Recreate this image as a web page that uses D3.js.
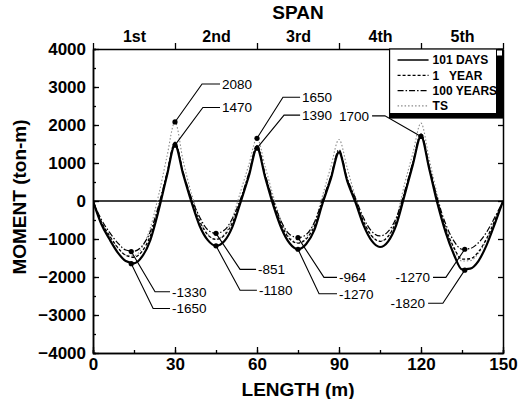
<!DOCTYPE html>
<html>
<head>
<meta charset="utf-8">
<script src="https://cdn.jsdelivr.net/npm/d3@7"></script>
<style>
    body { margin: 0; background: #fff; }
    svg { display: block; font-family: "Liberation Sans", Arial, sans-serif; }
</style>
</head>
<body>
<div id="chart"></div>
<script>
// moment envelopes along the 5-span girder, every 3 m
const lengths  = [0, 3, 6, 9, 12, 15, 18, 21, 24, 27, 30, 33, 36, 39, 42, 45, 48, 51, 54, 57, 60,
                  63, 66, 69, 72, 75, 78, 81, 84, 87, 90, 93, 96, 99, 102, 105, 108, 111, 114, 117, 120,
                  123, 126, 129, 132, 135, 138, 141, 144, 147, 150];
const days101  = [0, -600, -1000, -1350, -1580, -1640, -1460, -1020, -250, 650, 1470, 700, -20, -650, -1030, -1180, -1060, -680, -30, 650, 1390,
                  620, -120, -730, -1120, -1270, -1130, -760, -60, 580, 1280, 530, -30, -640, -1050, -1210, -1060, -620, 150, 950, 1700,
                  850, -60, -820, -1400, -1800, -1780, -1580, -1160, -600, 0];
const year1    = [0, -540, -910, -1220, -1430, -1480, -1320, -910, -180, 690, 1510, 730, 30, -530, -890, -1010, -910, -570, 0, 690, 1420,
                  660, -60, -640, -1000, -1110, -1000, -660, -20, 620, 1310, 560, 20, -540, -920, -1060, -930, -520, 200, 980, 1730,
                  880, 0, -710, -1220, -1530, -1520, -1340, -990, -510, 0];
const years100 = [0, -480, -820, -1100, -1290, -1320, -1180, -800, -120, 720, 1550, 760, 80, -420, -760, -851, -770, -460, 60, 730, 1460,
                  700, 0, -560, -880, -964, -880, -560, 30, 650, 1350, 600, 80, -450, -800, -920, -800, -430, 250, 1020, 1770,
                  920, 60, -600, -1050, -1270, -1250, -1100, -820, -430, 0];
const ts       = [0, -550, -920, -1230, -1420, -1440, -1220, -700, 150, 1150, 2080, 1050, 200, -450, -880, -1000, -880, -450, 250, 950, 1650,
                  900, 120, -560, -960, -1100, -960, -560, 150, 900, 1620, 870, 100, -560, -930, -1060, -920, -450, 450, 1250, 2050,
                  1100, 150, -700, -1250, -1580, -1570, -1380, -1020, -540, 0];

const seriesNames = ["101 DAYS", "1   YEAR", "100 YEARS", "TS"];
const spanNames = ["1st", "2nd", "3rd", "4th", "5th"];
const spanCentres = [15, 45, 75, 105, 135];
const supports = [0, 30, 60, 90, 120, 150];
const lengthTicks = [0, 30, 60, 90, 120, 150];
const momentTicks = [-4000, -3000, -2000, -1000, 0, 1000, 2000, 3000, 4000];

// labelled values: point on the curve, then bend of the leader and label start (data units)
const callouts = [
    { x: 30,  m: 2080,  text: "2080",  bx: 39.9,  by: 3080,  tx: 47.2 },
    { x: 30,  m: 1470,  text: "1470",  bx: 40.2,  by: 2460,  tx: 47.2 },
    { x: 60,  m: 1650,  text: "1650",  bx: 69.5,  by: 2730,  tx: 76.5 },
    { x: 60,  m: 1390,  text: "1390",  bx: 69.9,  by: 2260,  tx: 76.5 },
    { x: 120, m: 1700,  text: "1700",  bx: 106.8, by: 2240,  tx: 101.0 },
    { x: 14,  m: -1330, text: "-1330", bx: 22.7,  by: -2390, tx: 28.9 },
    { x: 14,  m: -1650, text: "-1650", bx: 22.0,  by: -2830, tx: 28.9 },
    { x: 45,  m: -851,  text: "-851",  bx: 53.8,  by: -1800, tx: 60.4 },
    { x: 45,  m: -1180, text: "-1180", bx: 53.8,  by: -2350, tx: 60.7 },
    { x: 75,  m: -964,  text: "-964",  bx: 84.5,  by: -2010, tx: 90.0 },
    { x: 75,  m: -1270, text: "-1270", bx: 82.7,  by: -2440, tx: 90.0 },
    { x: 136, m: -1270, text: "-1270", bx: 129.1, by: -2010, tx: 123.3 },
    { x: 136, m: -1820, text: "-1820", bx: 128.0, by: -2690, tx: 121.5 }
];

const W = 522, H = 399;
const margin = { top: 49, right: 19, bottom: 46, left: 93 };
const iw = W - margin.left - margin.right;
const ih = H - margin.top - margin.bottom;

const svg = d3.select("#chart").append("svg")
    .attr("width", W)
    .attr("height", H);

const x = d3.scaleLinear().domain([0, 150]).range([0, iw]);
const y = d3.scaleLinear().domain([-4000, 4000]).range([ih, 0]);

const g = svg.append("g").attr("transform", `translate(${margin.left},${margin.top})`);

g.append("clipPath").attr("id", "plot")
    .append("rect").attr("width", iw).attr("height", ih);

// zero line
g.append("line")
    .attr("x1", 0).attr("x2", iw)
    .attr("y1", y(0)).attr("y2", y(0))
    .attr("stroke", "#000").attr("stroke-width", 1.5);

const styles = [
    { data: ts,       color: "#8a8a8a", width: 1.1, dash: "1.5,2" },
    { data: years100, color: "#000",    width: 1.2, dash: "6,2,1.5,2" },
    { data: year1,    color: "#000",    width: 1.3, dash: "3,2" },
    { data: days101,  color: "#000",    width: 2.2, dash: null }
];

const line = d3.line()
    .x((d, i) => x(lengths[i]))
    .y(d => y(d))
    .curve(d3.curveMonotoneX);

styles.forEach(s => {
    g.append("path")
        .attr("d", line(s.data))
        .attr("fill", "none")
        .attr("stroke", s.color)
        .attr("stroke-width", s.width)
        .attr("stroke-dasharray", s.dash)
        .attr("clip-path", "url(#plot)");
});

// axes
const fontTick = g => g.selectAll("text")
    .attr("font-size", 17).attr("font-weight", "bold").attr("fill", "#000");

const styleAxis = ax => {
    ax.select(".domain").attr("stroke-width", 1.5);
    ax.selectAll(".tick line").attr("stroke-width", 1.3);
};

g.append("g").attr("transform", `translate(0,${ih})`)
    .call(d3.axisBottom(x).tickValues(d3.range(0, 151, 15)).tickSize(-3).tickFormat(""))
    .call(styleAxis);
g.append("g").attr("transform", `translate(0,${ih})`)
    .call(d3.axisBottom(x).tickValues(lengthTicks).tickSize(-6).tickSizeOuter(0).tickPadding(5).tickFormat(d3.format("d")))
    .call(styleAxis).call(fontTick);

g.append("g")
    .call(d3.axisTop(x).tickValues(supports).tickSize(6).tickSizeOuter(0).tickFormat(""))
    .call(styleAxis);
g.append("g")
    .call(d3.axisTop(x).tickValues(spanCentres).tickSize(0).tickPadding(7).tickFormat((d, i) => spanNames[i]))
    .call(ax => ax.select(".domain").remove())
    .call(ax => ax.selectAll("text").attr("font-size", 16).attr("font-weight", "bold"));

g.append("g")
    .call(d3.axisLeft(y).tickValues(d3.range(-4000, 4001, 500)).tickSize(-3).tickFormat(""))
    .call(styleAxis);
g.append("g")
    .call(d3.axisLeft(y).tickValues(momentTicks).tickSize(-6).tickSizeOuter(0).tickPadding(7).tickFormat(d3.format("d")))
    .call(styleAxis).call(fontTick);

g.append("g").attr("transform", `translate(${iw},0)`)
    .call(d3.axisRight(y).tickValues(momentTicks).tickSize(-5).tickSizeOuter(0).tickFormat(""))
    .call(styleAxis);

// axis titles
svg.append("text")
    .attr("x", margin.left + iw / 2).attr("y", 19)
    .attr("text-anchor", "middle")
    .attr("font-size", 19).attr("font-weight", "bold")
    .text("SPAN");
svg.append("text")
    .attr("x", margin.left + iw / 2).attr("y", 396)
    .attr("text-anchor", "middle")
    .attr("font-size", 19).attr("font-weight", "bold")
    .text("LENGTH (m)");
svg.append("text")
    .attr("transform", `translate(26,${margin.top + ih / 2 - 4}) rotate(-90)`)
    .attr("text-anchor", "middle")
    .attr("font-size", 19).attr("font-weight", "bold")
    .text("MOMENT (ton-m)");

// callouts
const cg = g.append("g");
callouts.forEach(c => {
    const left = c.tx < c.x;
    const px = x(c.x), py = y(c.m), bx = x(c.bx), by = y(c.by), tx = x(c.tx);
    cg.append("polyline")
        .attr("points", [[px, py], [bx, by], [left ? tx + 3 : tx - 2, by]].map(p => p.join(",")).join(" "))
        .attr("fill", "none").attr("stroke", "#000").attr("stroke-width", 1.1);
    cg.append("circle")
        .attr("cx", px).attr("cy", py).attr("r", 2.6).attr("fill", "#000");
    cg.append("text")
        .attr("x", tx).attr("y", by)
        .attr("dy", "0.36em")
        .attr("text-anchor", left ? "end" : "start")
        .attr("font-size", 13.5)
        .text(c.text);
});

// legend
const lg = g.append("g").attr("transform", `translate(${x(108.5)},0)`);
const lw = iw - x(108.5), lh = 69;
lg.append("rect").attr("width", lw).attr("height", lh)
    .attr("fill", "#fff").attr("stroke", "#000").attr("stroke-width", 1.2);
lg.append("rect").attr("x", lw - 7).attr("y", 0).attr("width", 7).attr("height", lh).attr("fill", "#000");
lg.append("rect").attr("x", 0).attr("y", lh - 5).attr("width", lw).attr("height", 5).attr("fill", "#000");
lg.append("rect").attr("x", lw - 6).attr("y", 1.5).attr("width", 5).attr("height", 5).attr("fill", "#fff");

const legendStyles = styles.slice().reverse();
seriesNames.forEach((name, i) => {
    const s = legendStyles[i];
    const ly = 11 + i * 15.3;
    lg.append("line")
        .attr("x1", 8).attr("x2", 39).attr("y1", ly).attr("y2", ly)
        .attr("stroke", s.color).attr("stroke-width", Math.min(s.width, 1.5))
        .attr("stroke-dasharray", s.dash);
    lg.append("text")
        .attr("x", 43).attr("y", ly).attr("dy", "0.36em")
        .attr("font-size", 12).attr("font-weight", "bold")
        .style("white-space", "pre")
        .text(name);
});
</script>
</body>
</html>
